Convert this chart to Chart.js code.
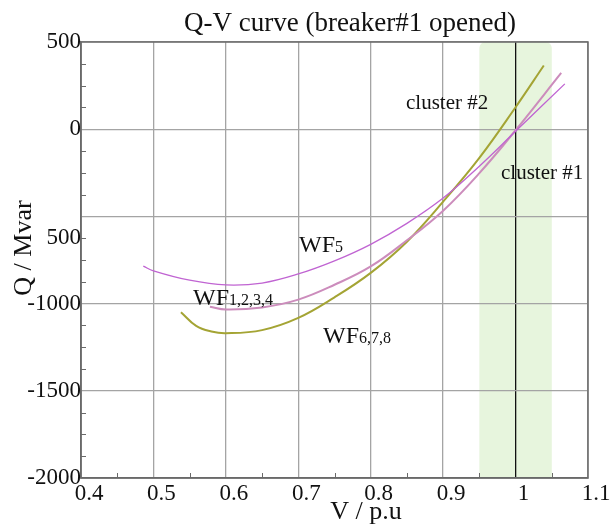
<!DOCTYPE html>
<html>
<head>
<meta charset="utf-8">
<script src="https://cdn.jsdelivr.net/npm/chart.js@4/dist/chart.umd.min.js"></script>
<style>
  html, body { margin: 0; padding: 0; background: #fff; }
  #wrap { width: 614px; height: 527px; }
</style>
</head>
<body>
<div id="wrap"><canvas id="qv"></canvas></div>
<script>
// Q-V curves per wind-farm cluster, breaker #1 opened
const vWF5 = [0.486, 0.5, 0.55, 0.6, 0.65, 0.7, 0.75, 0.8, 0.85, 0.9, 0.95, 1.0, 1.068];
const qWF5 = [-785, -812, -866, -893, -882, -830, -755, -660, -540, -395, -212, -12, 260];

const vWF1234 = [0.578, 0.6, 0.65, 0.7, 0.75, 0.8, 0.85, 0.9, 0.95, 1.0, 1.063];
const qWF1234 = [-1018, -1034, -1022, -977, -892, -787, -637, -467, -252, -6, 323];

const vWF678 = [0.538, 0.559, 0.58, 0.6, 0.65, 0.7, 0.75, 0.8, 0.85, 0.9, 0.95, 1.0, 1.039];
const qWF678 = [-1049, -1128, -1160, -1170, -1152, -1082, -964, -824, -645, -415, -164, 126, 365];

// axis ticks (the label under -500 reads "500" one minor step lower)
const xTickValues = [0.4, 0.5, 0.6, 0.7, 0.8, 0.9, 1, 1.1];
const xTickText = ['0.4', '0.5', '0.6', '0.7', '0.8', '0.9', '1', '1.1'];
const yTickValues = [500, 0, -500, -625, -1000, -1500, -2000];
const yTickText = ['500', '0', '', '500', '-1000', '-1500', '-2000'];

// shaded operating band around 1 p.u.
const bandRange = [0.95, 1.05];

const SERIF = "'Liberation Serif', 'DejaVu Serif', serif";
const GRID = '#a4a4a4';
const FRAME = '#6a6a6a';

function pts(xs, ys) {
  return xs.map((x, i) => ({ x, y: ys[i] }));
}

const bandPlugin = {
  id: 'band',
  beforeDraw(chart) {
    const { ctx, chartArea: a, scales } = chart;
    ctx.save();
    ctx.fillStyle = '#fff';
    ctx.fillRect(0, 0, chart.width, chart.height);
    const x0 = scales.x.getPixelForValue(bandRange[0]);
    const x1 = scales.x.getPixelForValue(bandRange[1]);
    ctx.fillStyle = '#e7f5dd';
    ctx.beginPath();
    ctx.roundRect(x0, a.top, x1 - x0, a.bottom - a.top, [6, 6, 0, 0]);
    ctx.fill();
    ctx.restore();
  }
};

const decorPlugin = {
  id: 'decor',
  afterDatasetsDraw(chart) {
    const { ctx, chartArea: a, scales } = chart;
    ctx.save();

    // minor ticks, drawn inward
    ctx.strokeStyle = FRAME;
    ctx.lineWidth = 1;
    ctx.beginPath();
    for (let i = 0; i < 7; i++) {
      const x = Math.round(scales.x.getPixelForValue(0.45 + i * 0.1)) + 0.5;
      ctx.moveTo(x, a.bottom);
      ctx.lineTo(x, a.bottom - 5);
    }
    for (let q = 375; q > -2000; q -= 125) {
      if (q % 500 === 0) continue;
      const y = Math.round(scales.y.getPixelForValue(q)) + 0.5;
      ctx.moveTo(a.left, y);
      ctx.lineTo(a.left + 5, y);
    }
    ctx.stroke();

    // frame
    ctx.strokeStyle = FRAME;
    ctx.lineWidth = 1.5;
    ctx.strokeRect(a.left, a.top, a.right - a.left, a.bottom - a.top);

    ctx.fillStyle = '#111';
    ctx.textBaseline = 'alphabetic';

    // title and axis titles
    ctx.font = '27px ' + SERIF;
    ctx.textAlign = 'center';
    ctx.fillText('Q-V curve (breaker#1 opened)', 350, 31);
    ctx.font = '26px ' + SERIF;
    ctx.fillText('V / p.u', 366, 519);
    ctx.save();
    ctx.translate(31, 248);
    ctx.rotate(-Math.PI / 2);
    ctx.fillText('Q / Mvar', 0, 0);
    ctx.restore();

    // cluster notes
    ctx.textAlign = 'left';
    ctx.font = '21px ' + SERIF;
    ctx.fillText('cluster #2', 406, 109);
    ctx.fillText('cluster #1', 501, 179);

    // curve labels with subscripts
    const sub = (main, s, x, y) => {
      ctx.font = '24px ' + SERIF;
      ctx.fillText(main, x, y);
      const w = ctx.measureText(main).width;
      ctx.font = '16px ' + SERIF;
      ctx.fillText(s, x + w, y);
    };
    sub('WF', '5', 299, 252);
    sub('WF', '1,2,3,4', 193, 305);
    sub('WF', '6,7,8', 323, 343);

    ctx.restore();
  }
};

new Chart(document.getElementById('qv'), {
  type: 'scatter',
  data: {
    datasets: [
      {
        label: 'WF5',
        data: pts(vWF5, qWF5),
        showLine: true,
        borderColor: '#c064d2',
        borderWidth: 1.3,
        pointRadius: 0,
        tension: 0.4
      },
      {
        label: 'WF1,2,3,4',
        data: pts(vWF1234, qWF1234),
        showLine: true,
        borderColor: '#cc8cbc',
        borderWidth: 2,
        pointRadius: 0,
        tension: 0.4
      },
      {
        label: 'WF6,7,8',
        data: pts(vWF678, qWF678),
        showLine: true,
        borderColor: '#a4a434',
        borderWidth: 2,
        pointRadius: 0,
        tension: 0.4
      }
    ]
  },
  options: {
    responsive: true,
    maintainAspectRatio: false,
    animation: false,
    devicePixelRatio: 1,
    layout: { padding: { top: 42, right: 26, left: 0, bottom: 0 } },
    plugins: {
      legend: { display: false },
      tooltip: { enabled: false },
      title: { display: false }
    },
    scales: {
      x: {
        type: 'linear',
        min: 0.4,
        max: 1.1,
        afterBuildTicks: (s) => { s.ticks = xTickValues.map(v => ({ value: v })); },
        afterFit: (s) => { s.height = 49; },
        ticks: {
          font: { family: SERIF, size: 23 },
          color: '#111',
          padding: 2,
          labelOffset: 8,
          maxRotation: 0,
          autoSkip: false,
          callback: (v) => xTickText[xTickValues.indexOf(v)] ?? ''
        },
        grid: {
          drawTicks: false,
          lineWidth: 1.3,
          color: (c) => (c.tick && c.tick.value === 1 ? '#111' : GRID)
        },
        border: { color: FRAME, width: 1.5 }
      },
      y: {
        type: 'linear',
        min: -2000,
        max: 500,
        afterBuildTicks: (s) => { s.ticks = yTickValues.map(v => ({ value: v })); },
        afterFit: (s) => { s.width = 81; },
        ticks: {
          font: { family: SERIF, size: 23 },
          color: '#111',
          padding: 0,
          autoSkip: false,
          callback: (v) => yTickText[yTickValues.indexOf(v)] ?? ''
        },
        grid: {
          drawTicks: false,
          lineWidth: 1.3,
          color: (c) => (c.tick && c.tick.value === -625 ? 'rgba(0,0,0,0)' : GRID)
        },
        border: { color: FRAME, width: 1.5 }
      }
    }
  },
  plugins: [bandPlugin, decorPlugin]
});
</script>
</body>
</html>
